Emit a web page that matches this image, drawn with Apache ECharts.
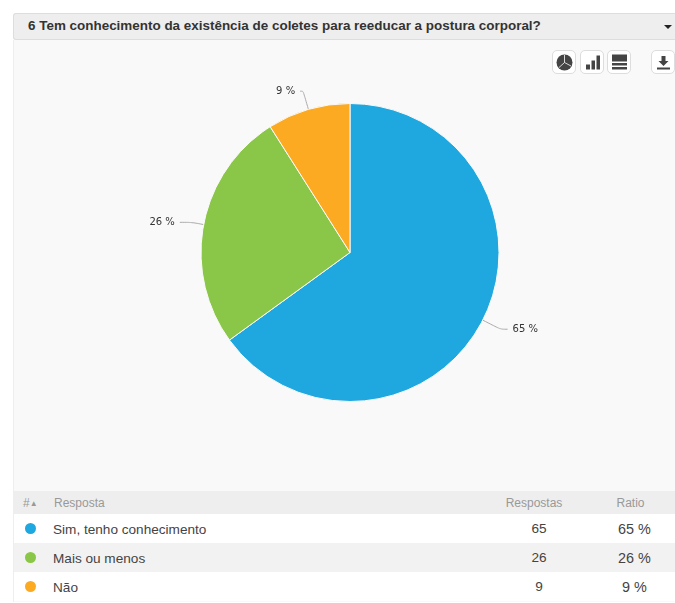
<!DOCTYPE html>
<html>
<head>
<meta charset="utf-8">
<title>Pergunta 6</title>
<script src="https://cdn.jsdelivr.net/npm/echarts@6/dist/echarts.min.js"></script>
<style>
  html, body { margin: 0; padding: 0; background: #fff; overflow: hidden; }
  body { width: 675px; height: 603px; position: relative; font-family: "Liberation Sans", Arial, sans-serif; }
  #panel { position: absolute; left: 13px; top: 40px; width: 662px; height: 562px; background: #f9f9f9; border-left: 1px solid #eee; box-sizing: border-box; }
  #title { position: absolute; left: 13px; top: 13px; width: 662px; height: 27px; box-sizing: border-box; background: #eee; border: 1px solid #ddd; border-right: 0; border-radius: 3px 0 0 3px;
    font-weight: bold; font-size: 13.45px; line-height: 23px; padding-left: 14px; color: #333; }
  #caret { position: absolute; left: 664px; top: 25px; width: 0; height: 0; border-left: 4px solid transparent; border-right: 4px solid transparent; border-top: 4px solid #222; }
  #chart { position: absolute; left: 0; top: 0; width: 675px; height: 490px; }
  .btn { position: absolute; top: 50px; width: 24px; height: 24px; box-sizing: border-box; background: #fff; border: 1px solid #ddd; border-radius: 5px; }
  .btn svg { display: block; position: absolute; left: 2px; top: 2px; }
  #tbl { position: absolute; left: 14px; top: 491px; width: 661px; border-collapse: collapse; table-layout: fixed; font-size: 13.6px; color: #444; }
  #tbl td, #tbl th { padding: 0; font-weight: normal; box-sizing: border-box; }
  #tbl th { height: 23px; background: #eee; color: #999; font-size: 12px; }
  #tbl tr.row td { height: 29px; padding-top: 2px; }
  #tbl tr.alt td { background: #f2f2f2; }
  #tbl tr.plain td { background: #fff; }
  .dot { display: block; width: 11px; height: 11px; border-radius: 50%; margin-left: 11px; position: relative; top: -1px; }
  .tri { font-size: 8px; position: relative; top: -1px; }
  .l { text-align: left; }
  .c { text-align: center; }
  .val { position: relative; left: 5px; top: -1px; }
  .pct { position: relative; left: 5px; top: -1px; font-size: 14.4px; }
</style>
</head>
<body>
<div id="panel"></div>
<div id="title"></div>
<div id="caret"></div>
<div class="btn" style="left:552px"><svg width="19" height="19" viewBox="0 0 19 19"><circle cx="9.5" cy="9.5" r="8" fill="#444"/><path d="M9.5 9.5L9.5 2M9.5 9.5L16 13M9.5 9.5L4 14.5" stroke="#fff" stroke-width="0.8"/></svg></div>
<div class="btn" style="left:580px"><svg width="19" height="19" viewBox="0 0 19 19"><rect x="3" y="11.500" width="4" height="5" fill="#444"/><rect x="8.500" y="7.500" width="3.500" height="9" fill="#444"/><rect x="13.500" y="2.500" width="3.500" height="14" fill="#444"/></svg></div>
<div class="btn" style="left:607px"><svg width="19" height="19" viewBox="0 0 19 19"><rect x="2" y="1.500" width="15" height="7" fill="#444"/><rect x="2" y="10" width="15" height="2.500" fill="#444"/><rect x="2" y="14" width="15" height="2.500" fill="#444"/></svg></div>
<div class="btn" style="left:651px"><svg width="19" height="19" viewBox="0 0 19 19"><path d="M7.500 3h4v5h3l-5 5-5-5h3z" fill="#444"/><rect x="3" y="14.500" width="13" height="2" fill="#444"/></svg></div>
<div id="chart"></div>
<table id="tbl"></table>
<script>
const titleText = '6 Tem conhecimento da existência de coletes para reeducar a postura corporal?';
const categories = ['Sim, tenho conhecimento', 'Mais ou menos', 'Não'];
const respostas = [65, 26, 9];
const ratios = [65, 26, 9];
const colors = ['#1fa8e0', '#8ac647', '#fdaa23'];
const headers = ['#', 'Resposta', 'Respostas', 'Ratio'];

document.querySelector('#title').textContent = titleText;

const rows = categories
  .map((name, idx) => {
    return `<tr class="row ${idx === 1 ? 'alt' : 'plain'}">
      <td><span class="dot" style="background:${colors[idx]}"></span></td>
      <td class="l">${name}</td>
      <td class="c"><span class="val">${respostas[idx]}</span></td>
      <td class="c"><span class="pct">${ratios[idx]} %</span></td>
    </tr>`;
  })
  .join('');

document.querySelector('#tbl').innerHTML = `
  <colgroup><col style="width:39px"><col style="width:431px"><col style="width:100px"><col style="width:91px"></colgroup>
  <tr>
    <th class="l" style="padding-left:9px">${headers[0]}<span class="tri">▲</span></th>
    <th class="l" style="padding-left:1px">${headers[1]}</th>
    <th class="c">${headers[2]}</th>
    <th class="c" style="padding-left:2px">${headers[3]}</th>
  </tr>${rows}`;

const myChart = echarts.init(document.querySelector('#chart'));

// leader line lengths differ per slice in the original
const lineStyles = [
  { length: 20, length2: 7 },
  { length: 12, length2: 12 },
  { length: 19, length2: 3 }
];

const option = {
  animation: false,
  series: [
    {
      type: 'pie',
      center: [350, 252.5],
      radius: 149,
      startAngle: 90,
      clockwise: true,
      data: categories.map((name, idx) => ({
        name,
        value: respostas[idx],
        itemStyle: { color: colors[idx] },
        labelLine: lineStyles[idx]
      })),
      itemStyle: { borderColor: '#f9f9f9', borderWidth: 1 },
      label: {
        formatter(p) {
          return `${ratios[p.dataIndex]} %`;
        },
        color: '#333',
        fontFamily: 'DejaVu Sans',
        fontSize: 10,
        padding: [4, 0, 0, 0]
      },
      labelLine: {
        smooth: 0.3,
        lineStyle: { color: '#aaa', width: 1 }
      }
    }
  ]
};

myChart.setOption(option);
</script>
</body>
</html>
